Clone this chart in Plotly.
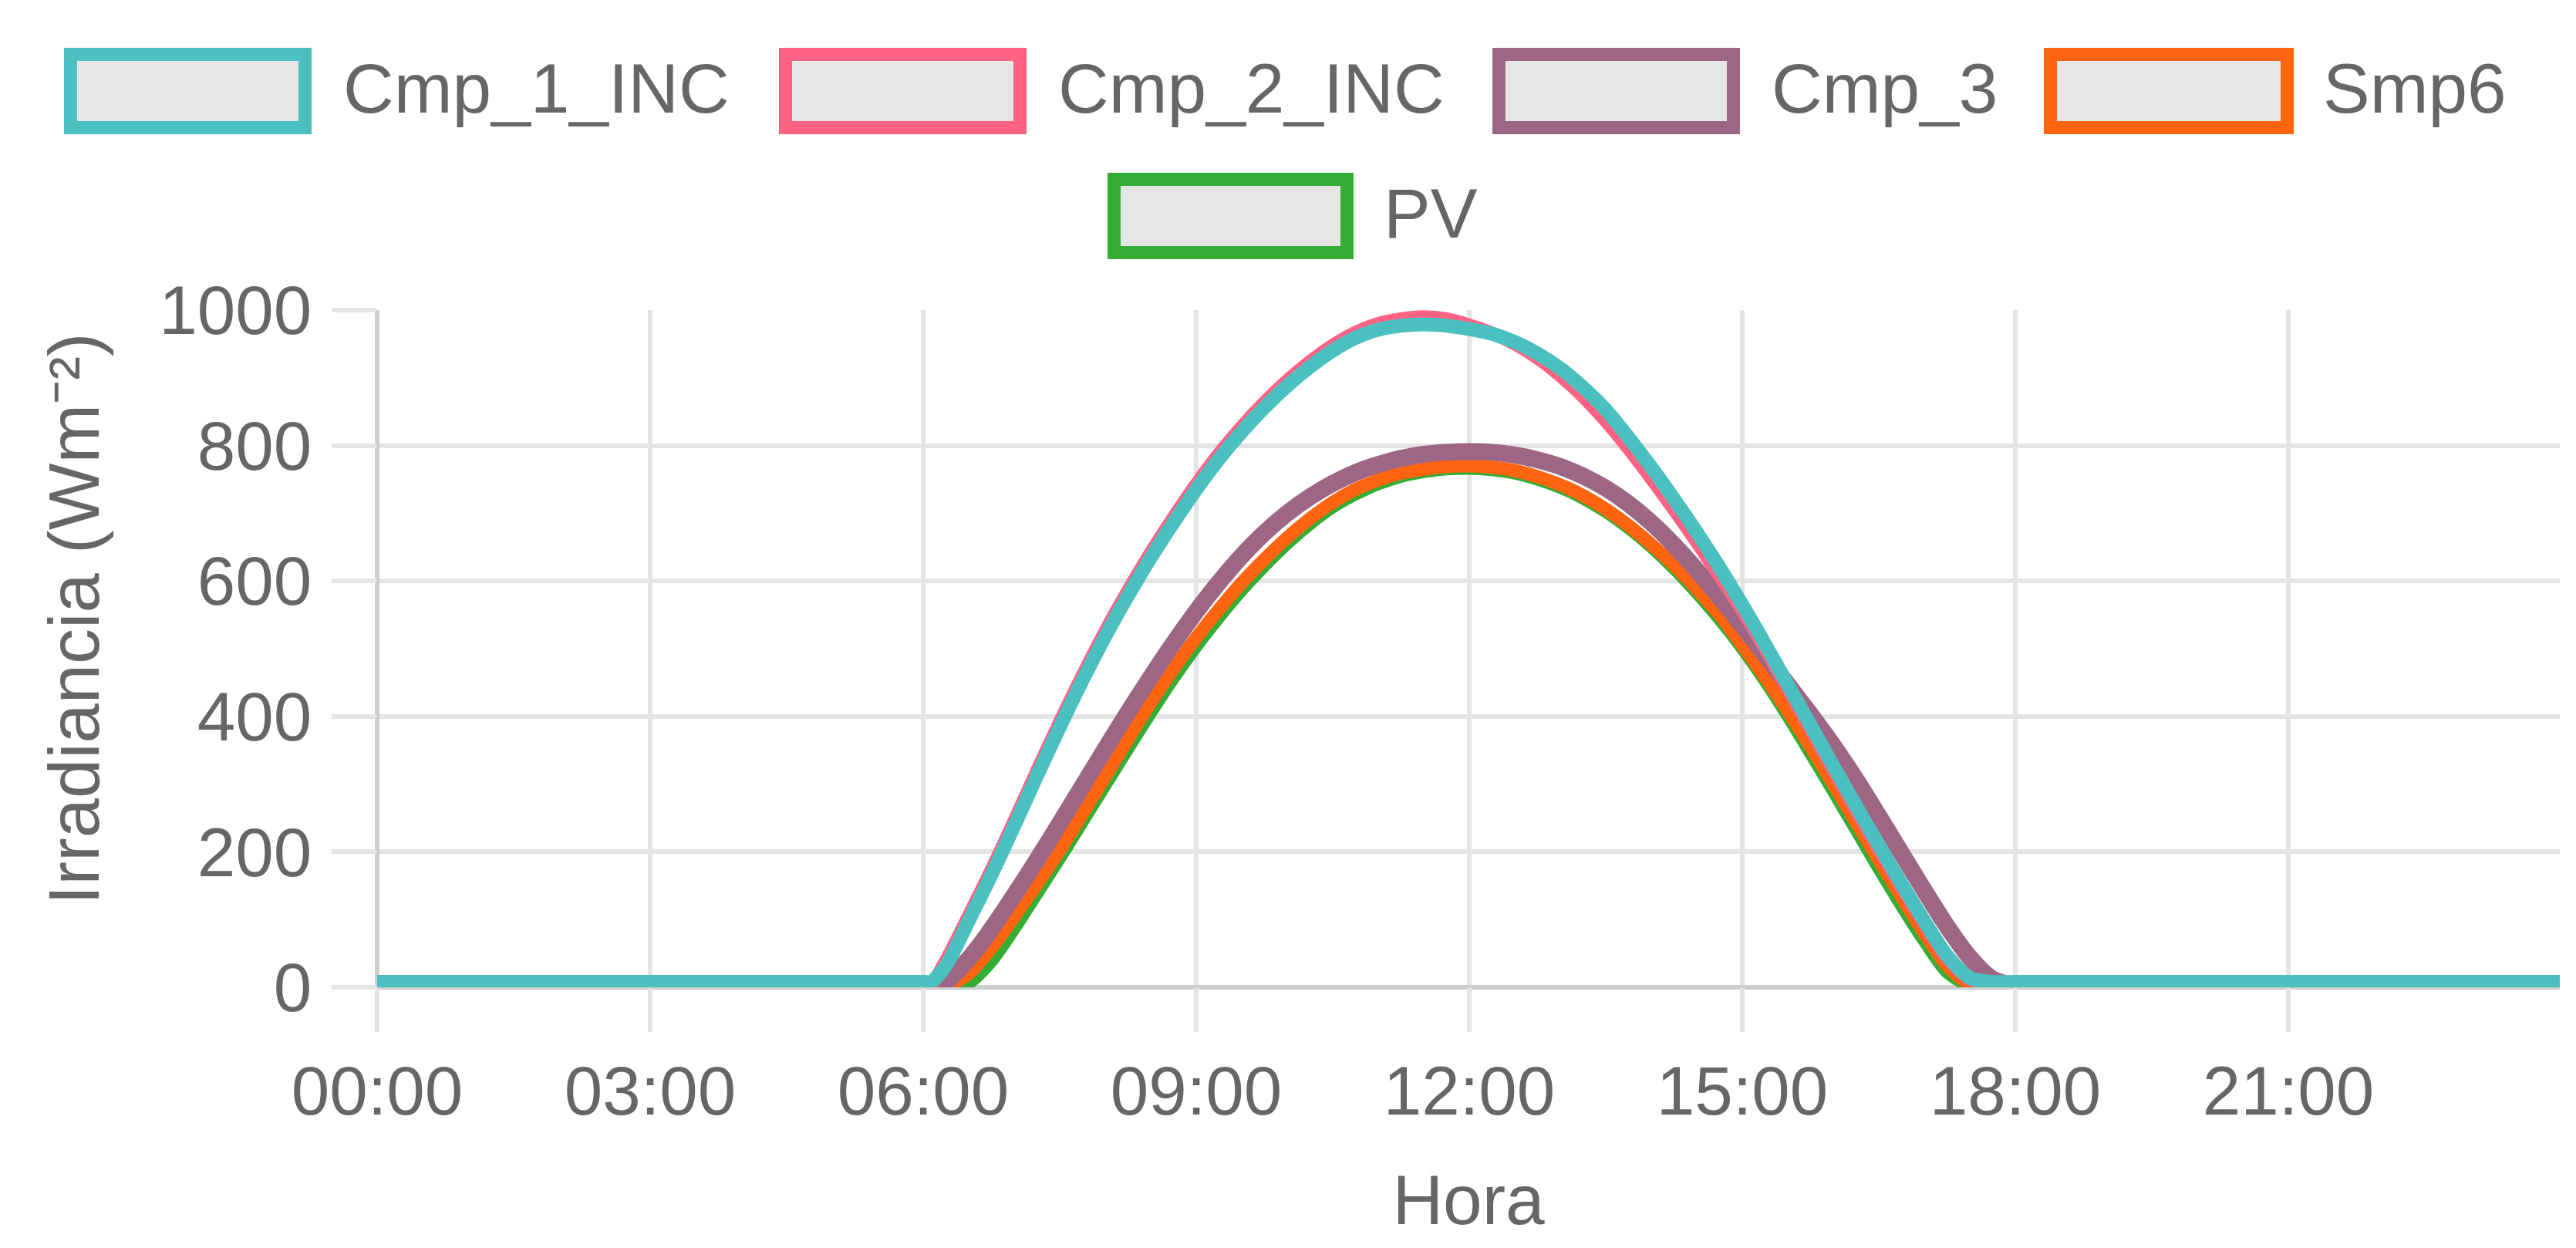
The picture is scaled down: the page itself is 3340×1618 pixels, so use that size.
import plotly.graph_objects as go

# ---------------- data ----------------
times = ["00:00", "01:00", "02:00", "03:00", "04:00", "05:00",
         "06:00", "06:05", "06:15", "06:30", "06:45",
         "07:00", "07:15", "07:30", "07:45", "08:00", "08:15", "08:30", "08:45",
         "09:00", "09:15", "09:30", "09:45", "10:00", "10:15", "10:30", "10:45",
         "11:00", "11:15", "11:30", "11:45", "12:00", "12:15", "12:30", "12:45",
         "13:00", "13:15", "13:30", "13:45", "14:00", "14:15", "14:30", "14:45",
         "15:00", "15:15", "15:30", "15:45", "16:00", "16:15", "16:30", "16:45",
         "17:00", "17:15", "17:30", "17:45", "18:00",
         "19:00", "20:00", "21:00", "22:00", "23:00", "23:59"]

cmp_1_inc = [8, 8, 8, 8, 8, 8,
             8, 8, 32, 98, 166,
             238, 312, 384, 453, 518, 578, 634, 686,
             735, 780, 820, 856, 888, 916, 940, 959,
             971, 977, 979, 977, 972, 965, 953, 936,
             914, 886, 853, 812, 768, 721, 672, 620,
             565, 507, 447, 387, 327, 268, 210, 153,
             98, 47, 14, 8, 8,
             8, 8, 8, 8, 8, 8]

cmp_2_inc = [5, 5, 5, 5, 5, 5,
             5, 5, 40, 106, 174,
             246, 320, 392, 461, 526, 586, 642, 694,
             743, 788, 828, 864, 896, 924, 948, 967,
             980, 987, 990, 987, 978, 966, 950, 929,
             903, 872, 836, 795, 751, 705, 657, 607,
             556, 500, 440, 380, 320, 261, 203, 147,
             93, 43, 12, 5, 5,
             5, 5, 5, 5, 5, 5]

cmp_3 = [3, 3, 3, 3, 3, 3,
         3, 3, 8, 42, 86,
         136, 188, 242, 297, 352, 406, 458, 508,
         555, 598, 637, 671, 700, 724, 744, 760,
         772, 781, 787, 790, 791, 790, 786, 779,
         769, 755, 737, 714, 686, 653, 616, 576,
         534, 491, 447, 403, 357, 307, 253, 198,
         143, 90, 44, 12, 3,
         3, 3, 3, 3, 3, 3]

smp6 = [2, 2, 2, 2, 2, 2,
        2, 2, 2, 20, 58,
        104, 152, 202, 256, 311, 366, 420, 470,
        516, 558, 597, 632, 664, 692, 716, 735,
        749, 759, 765, 769, 770, 768, 763, 754,
        742, 726, 706, 682, 654, 623, 588, 550,
        505, 458, 408, 355, 300, 244, 188, 133,
        80, 32, 5, 2, 2,
        2, 2, 2, 2, 2, 2]

pv = [0, 0, 0, 0, 0, 0,
      0, 0, 0, 6, 38,
      86, 138, 190, 244, 298, 352, 405, 456,
      503, 546, 586, 622, 655, 684, 709, 728,
      743, 754, 761, 765, 766, 764, 759, 750,
      738, 722, 702, 678, 650, 618, 582, 543,
      500, 452, 400, 345, 289, 232, 175, 120,
      68, 22, 2, 0, 0,
      0, 0, 0, 0, 0, 0]

series_names = ["Cmp_1_INC", "Cmp_2_INC", "Cmp_3", "Smp6", "PV"]
series_values = [cmp_1_inc, cmp_2_inc, cmp_3, smp6, pv]

x_tick_labels = ["00:00", "03:00", "06:00", "09:00", "12:00", "15:00", "18:00", "21:00"]
y_tick_values = [0, 200, 400, 600, 800, 1000]
x_title = "Hora"
y_title = "Irradiancia (Wm⁻²)"

# ---------------- styling ----------------
colors = {"Cmp_1_INC": "#4BC0C0", "Cmp_2_INC": "#FF6384", "Cmp_3": "#9D6685",
          "Smp6": "#FF6410", "PV": "#33AD33"}
widths = {"Cmp_1_INC": 18, "Cmp_2_INC": 17, "Cmp_3": 22, "Smp6": 17, "PV": 16}

W, H = 3340, 1618
PL, PR, PT, PB = 481, 3311, 394, 1272   # plot area in pixels
FONT = "Liberation Sans, Arial, Helvetica, sans-serif"
TXT = "#666666"
GRID = "#e4e4e4"
ZERO = "#cecece"


def to_hours(t):
    h, m = t.split(":")
    return int(h) + int(m) / 60.0


def px_x(px):
    return (px - PL) / (PR - PL)


def px_y(py):
    return (PB - py) / (PB - PT)


x_hours = [to_hours(t) for t in times]
x_tick_vals = [to_hours(t) for t in x_tick_labels]

fig = go.Figure()
# Chart.js draws the first dataset on top -> add in reverse order
for name, vals in reversed(list(zip(series_names, series_values))):
    fig.add_trace(go.Scatter(
        x=x_hours, y=vals, name=name, mode="lines",
        line=dict(color=colors[name], width=widths[name], shape="spline", smoothing=0.8),
        showlegend=False,
    ))

# ---------------- custom legend (boxes like Chart.js) ----------------
legend_items = [
    # name, box left, box right, row center y, text left
    ("Cmp_1_INC", 75, 396, 110, 435),
    ("Cmp_2_INC", 1002, 1323, 110, 1362),
    ("Cmp_3", 1927, 2248, 110, 2287),
    ("Smp6", 2642, 2966, 110, 3002),
    ("PV", 1428, 1747, 272, 1784),
]
box_h = 112
bw = 17
shapes = []
annotations = []
for name, x0, x1, yc, tx in legend_items:
    shapes.append(dict(
        type="rect", xref="paper", yref="paper",
        x0=px_x(x0 + bw / 2), x1=px_x(x1 - bw / 2),
        y0=px_y(yc - box_h / 2 + bw / 2), y1=px_y(yc + box_h / 2 - bw / 2),
        fillcolor="#e6e6e6", line=dict(color=colors[name], width=bw),
        layer="above",
    ))
    annotations.append(dict(
        text=name, xref="paper", yref="paper", x=px_x(tx), y=px_y(yc - 4),
        xanchor="left", yanchor="middle", showarrow=False,
        font=dict(family=FONT, size=91, color=TXT),
    ))

# y-axis title (placed like Chart.js, slightly above the plot centre)
annotations.append(dict(
    text=y_title, xref="paper", yref="paper", x=px_x(88), y=px_y(795),
    xanchor="center", yanchor="middle", textangle=-90, showarrow=False,
    font=dict(family=FONT, size=92, color=TXT),
))

fig.update_layout(
    width=W, height=H,
    margin=dict(l=PL, r=W - PR, t=PT, b=H - PB, pad=0),
    paper_bgcolor="white", plot_bgcolor="white",
    font=dict(family=FONT, size=89, color=TXT),
    shapes=shapes, annotations=annotations,
    showlegend=False,
)
fig.update_xaxes(
    range=[0, 23.983], tickmode="array", tickvals=x_tick_vals, ticktext=x_tick_labels,
    showgrid=True, gridcolor=GRID, gridwidth=6,
    zeroline=True, zerolinecolor=ZERO, zerolinewidth=6,
    ticks="outside", ticklen=57, tickwidth=6, tickcolor=GRID,
    tickfont=dict(family=FONT, size=89, color=TXT),
    showline=False,
    title=dict(text=x_title, font=dict(family=FONT, size=91, color=TXT), standoff=60),
)
fig.update_yaxes(
    range=[0, 1000], tickmode="array", tickvals=y_tick_values,
    showgrid=True, gridcolor=GRID, gridwidth=6,
    zeroline=True, zerolinecolor=ZERO, zerolinewidth=6,
    ticks="outside", ticklen=58, tickwidth=6, tickcolor=GRID,
    tickfont=dict(family=FONT, size=89, color=TXT),
    ticklabelstandoff=8,
    showline=False,
)

fig.write_html("out.html")
